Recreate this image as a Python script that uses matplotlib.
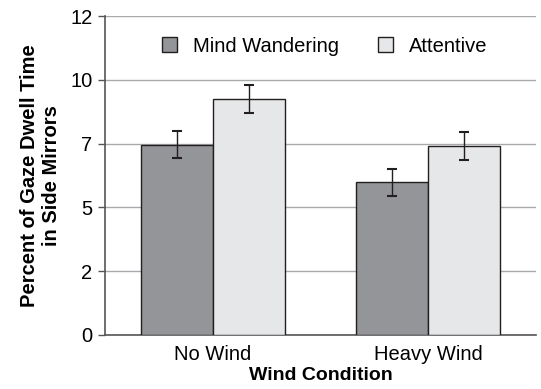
import matplotlib
matplotlib.use("Agg")
import matplotlib.pyplot as plt
import numpy as np

# data
conditions = ['No Wind', 'Heavy Wind']
mind_wandering = [7.45, 5.98]
mind_wandering_err = [0.53, 0.53]
attentive = [9.25, 7.42]
attentive_err = [0.55, 0.55]
ytick_vals = [0, 2.5, 5, 7.5, 10, 12.5]
ytick_labels = ['0', '2', '5', '7', '10', '12']

plt.rcParams['font.family'] = ['Liberation Sans', 'DejaVu Sans']

fig = plt.figure(figsize=(5.41, 3.89), dpi=100)
ax = fig.add_axes([105 / 541, 1 - 335 / 389, 431 / 541, 319 / 389])

x = np.arange(len(conditions))
w = 0.335
edge = '#231f20'
ax.bar(x - w / 2, mind_wandering, w, color='#939598', edgecolor=edge, linewidth=1.0,
       label='Mind Wandering', zorder=3)
ax.bar(x + w / 2, attentive, w, color='#e6e7e8', edgecolor=edge, linewidth=1.0,
       label='Attentive', zorder=3)
ax.errorbar(x - w / 2, mind_wandering, yerr=mind_wandering_err, fmt='none',
            ecolor=edge, elinewidth=1.0, capsize=3.5, capthick=1.5, zorder=4)
ax.errorbar(x + w / 2, attentive, yerr=attentive_err, fmt='none',
            ecolor=edge, elinewidth=1.0, capsize=3.5, capthick=1.5, zorder=4)

ax.set_xlim(-0.5, 1.5)
ax.set_ylim(0, 12.5)
ax.set_yticks(ytick_vals)
ax.set_yticklabels(ytick_labels, fontsize=14.5)
ax.set_xticks(x)
ax.set_xticklabels(conditions, fontsize=14.5)
ax.tick_params(axis='x', length=0, pad=7)
ax.tick_params(axis='y', length=5, width=1, color='#555555', pad=4)

ax.yaxis.grid(True, color='#a7a9ac', linewidth=1.0, zorder=0)
ax.set_axisbelow(True)
for s in ['top', 'right']:
    ax.spines[s].set_visible(False)
for s in ['left', 'bottom']:
    ax.spines[s].set_color('#555555')
    ax.spines[s].set_linewidth(1.2)

ax.set_ylabel('Percent of Gaze Dwell Time\nin Side Mirrors', fontsize=14.5,
              fontweight='bold', labelpad=7, linespacing=1.2)
ax.set_xlabel('Wind Condition', fontsize=14, fontweight='bold', labelpad=2)

ax.legend(loc='center', bbox_to_anchor=(0.51, 0.905), ncol=2, frameon=False,
          fontsize=14.5, handlelength=0.75, handleheight=0.75, columnspacing=1.95,
          handletextpad=0.8)

fig.savefig('out.png', dpi=100)
